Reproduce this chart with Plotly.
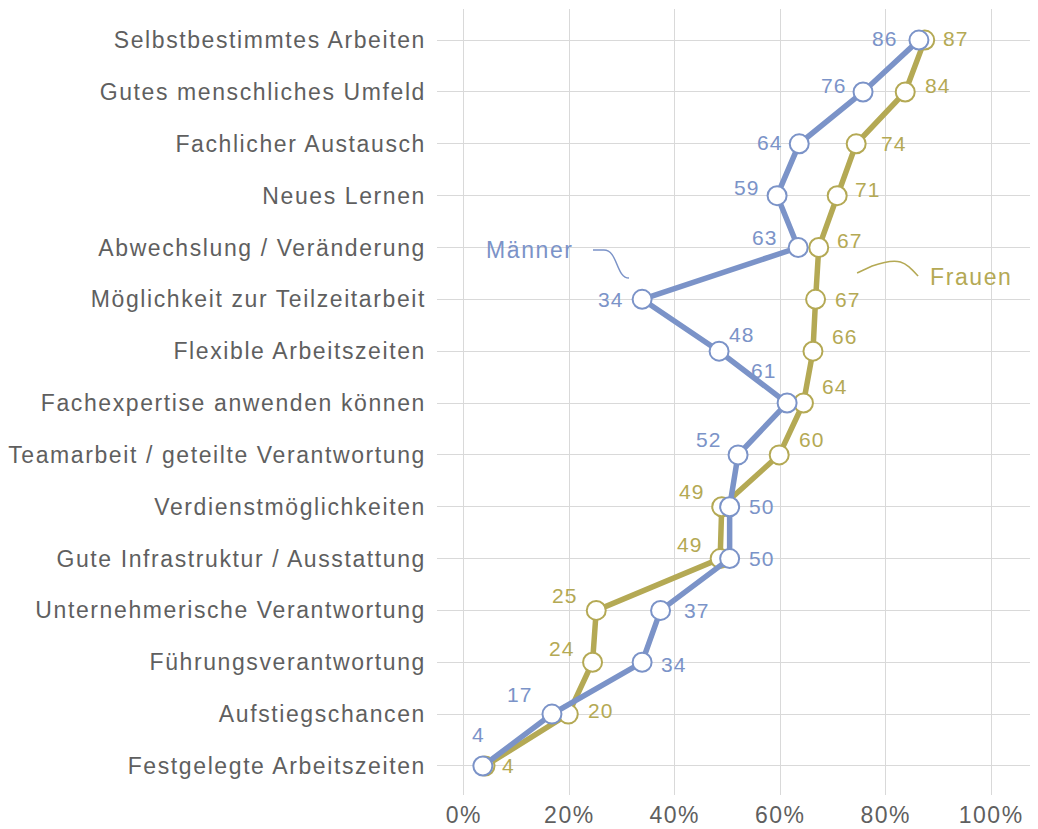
import plotly.graph_objects as go

categories = [
    "Selbstbestimmtes Arbeiten",
    "Gutes menschliches Umfeld",
    "Fachlicher Austausch",
    "Neues Lernen",
    "Abwechslung / Veränderung",
    "Möglichkeit zur Teilzeitarbeit",
    "Flexible Arbeitszeiten",
    "Fachexpertise anwenden können",
    "Teamarbeit / geteilte Verantwortung",
    "Verdienstmöglichkeiten",
    "Gute Infrastruktur / Ausstattung",
    "Unternehmerische Verantwortung",
    "Führungsverantwortung",
    "Aufstiegschancen",
    "Festgelegte Arbeitszeiten",
]
maenner = [86.3, 75.7, 63.6, 59.4, 63.4, 33.8, 48.4, 61.3, 52.0, 50.4, 50.4, 37.3, 33.8, 16.7, 3.6]
frauen = [87.4, 83.7, 74.4, 70.8, 67.3, 66.7, 66.2, 64.4, 59.8, 48.9, 48.6, 25.1, 24.4, 19.8, 4.0]
x_ticks = [0, 20, 40, 60, 80, 100]
x_tick_labels = ["0%", "20%", "40%", "60%", "80%", "100%"]

BLUE = "#7b93c8"
OLIVE = "#b4a954"
GREY = "#5f5f5f"
FONT = "Liberation Sans, Arial, sans-serif"


def spaced(t, s):
    return f'<span style="letter-spacing:{s}px">{t}</span>'


# label offsets in pixels (style)
m_off = [(-34, -2), (-30, -6), (-30, -1), (-31, -8), (-34, -10), (-32, 0), (22, -17),
         (-24, -33), (-30, -15), (32, 0), (32, 0), (36, 0), (31, 2), (-32, -20), (-4, -31)]
f_off = [(31, -2), (32, -6), (37, 0), (30, -6), (31, -7), (32, 0), (32, -15), (31, -17),
         (32, -15), (-30, -15), (-31, -14), (-32, -15), (-31, -14), (32, -4), (24, 0)]

ys = list(range(len(categories)))

fig = go.Figure()
for vals, col in ((frauen, OLIVE), (maenner, BLUE)):
    fig.add_trace(go.Scatter(
        x=vals, y=ys, mode="lines+markers",
        line=dict(color=col, width=5.5),
        marker=dict(size=19, color="white", line=dict(color=col, width=2)),
        hoverinfo="skip", showlegend=False,
    ))

for vals, offs, col in ((maenner, m_off, BLUE), (frauen, f_off, OLIVE)):
    for i, (v, (dx, dy)) in enumerate(zip(vals, offs)):
        fig.add_annotation(x=v, y=i, text=spaced(str(round(v)), 1), showarrow=False,
                           xshift=dx, yshift=-dy, font=dict(size=21, color=col, family=FONT))


def px2d(px, py):
    return (px - 464) / 5.27, (py - 40) / 51.86


def path(points):
    p = [px2d(*pt) for pt in points]
    return (f"M {p[0][0]},{p[0][1]} L {p[1][0]},{p[1][1]} "
            f"C {p[2][0]},{p[2][1]} {p[3][0]},{p[3][1]} {p[4][0]},{p[4][1]}")


fig.add_shape(type="path", path=path([(593, 250), (604, 250), (618, 250), (616, 278), (629, 278)]),
              line=dict(color=BLUE, width=1.5), xref="x", yref="y")
fig.add_shape(type="path", path=path([(857, 273), (872, 266), (900, 256), (905, 262), (918, 276)]),
              line=dict(color=OLIVE, width=1.5), xref="x", yref="y")

mx, my = px2d(530, 250)
fig.add_annotation(x=mx, y=my, text=spaced("Männer", 1.6), showarrow=False,
                   font=dict(size=23, color=BLUE, family=FONT))
fx, fy = px2d(971, 277)
fig.add_annotation(x=fx, y=fy, text=spaced("Frauen", 1.6), showarrow=False,
                   font=dict(size=23, color=OLIVE, family=FONT))

fig.update_layout(
    width=1038, height=829,
    margin=dict(l=429, r=0, t=1, b=42),
    plot_bgcolor="white", paper_bgcolor="white",
    font=dict(family=FONT, color=GREY),
    xaxis=dict(range=[-5.1, 110.4], tickvals=x_ticks,
               ticktext=[spaced(t, 1.5) for t in x_tick_labels],
               showgrid=True, gridcolor="#d9d9d9", gridwidth=1, zeroline=False,
               tickfont=dict(size=23, color=GREY), ticks="", showline=False,
               ticklabelstandoff=4),
    yaxis=dict(range=[14.56, -0.6], tickvals=ys,
               ticktext=[spaced(c, 1.6) for c in categories],
               showgrid=True, gridcolor="#d9d9d9", gridwidth=1, zeroline=False,
               tickfont=dict(size=23, color=GREY), ticks="", showline=False, ticklabelstandoff=10),
)

fig.write_html("out.html")
